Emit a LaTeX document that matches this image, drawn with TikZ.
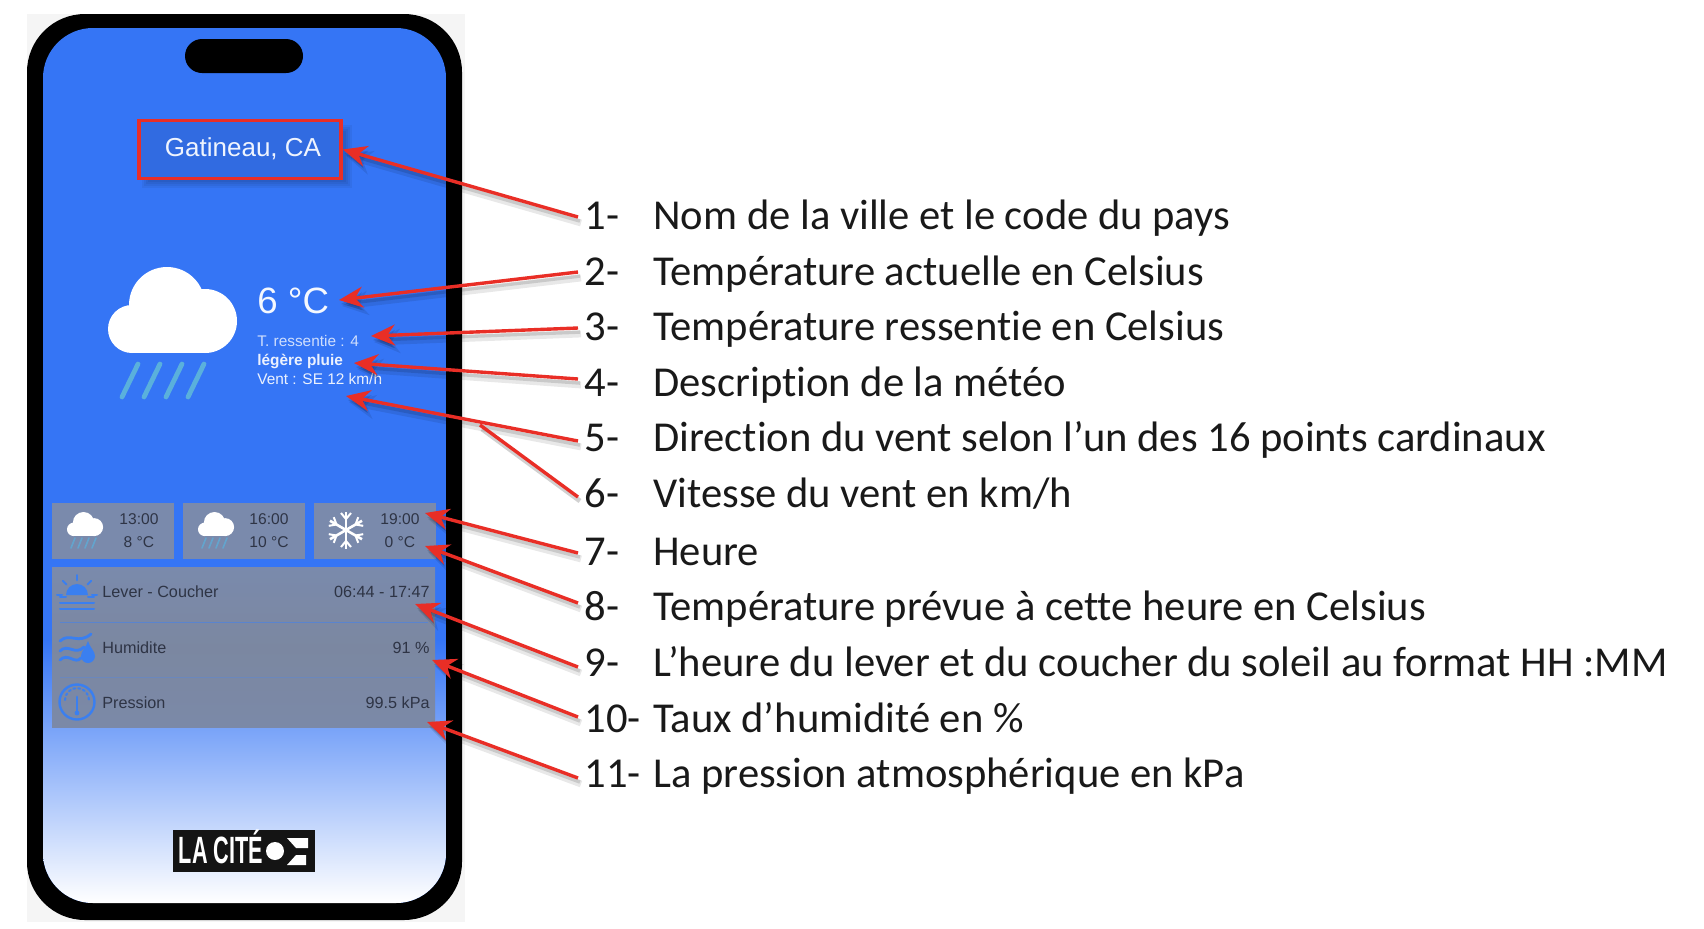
\documentclass[tikz,border=0pt]{standalone}
\usepackage{fontspec}
\usepackage{graphicx}
\setmainfont{Carlito}[Ligatures={NoCommon,NoContextual}]
\newfontfamily\ui{Liberation Sans}
\usetikzlibrary{arrows.meta,calc}
\definecolor{scr}{HTML}{3575F5}
\definecolor{redc}{HTML}{E92E26}
\definecolor{card}{HTML}{7A8AAC}
\definecolor{ink}{HTML}{2E3445}
\definecolor{rain}{HTML}{5AB0DC}
\definecolor{ico}{HTML}{3A7FF0}
\tikzset{
  x=0.5pt,y=-0.5pt,
  lab/.style={anchor=west,inner xsep=0pt,inner ysep=0pt,text height=13.4pt,text depth=0pt,font=\fontsize{21.3}{24}\selectfont,text=black!90},
  num/.style={lab,inner xsep=5.5pt},
  redline/.style={draw=redc,line width=1.7pt},
  redarrow/.style={redline,-{Stealth[length=12pt,width=10.5pt]}},
  shadowa/.style={draw=black,opacity=.09,line width=3.4pt,-{Stealth[length=13pt,width=12pt]}},
  shadowb/.style={draw=black,opacity=.13,line width=1.8pt,-{Stealth[length=11pt,width=9pt]}},
  uitext/.style={font=\ui\fontsize{7.8}{9}\selectfont,text=ink,inner sep=0pt},
  paneltext/.style={font=\ui\fontsize{8.1}{9}\selectfont,text=ink,inner sep=0pt},
  scrtext/.style={font=\ui\fontsize{7.7}{9}\selectfont,text=white!90!scr,inner sep=0pt,anchor=west},
  cardbox/.style={fill=card,draw=none},
  rainline/.style={draw=rain,line cap=round},
  icoline/.style={draw=ico,line cap=round,line width=1pt},
  pics/cloudicon/.style={code={
    \fill[white] (59,38) circle[radius=38] (97,54) circle[radius=32] (24,62) circle[radius=24];
    \fill[white] (24,53) rectangle (97,86);
  }},
  pics/flake/.style={code={
    \foreach \a in {0,60,...,300}{
      \begin{scope}[rotate=\a]
      \draw[white,line width=1.3pt] (0,0) -- (0,18.5);
      \draw[white,line width=1pt] (-5,17) -- (0,11) -- (5,17);
      \end{scope}
    }
  }},
}
\newcommand{\callout}[2]{%
  \draw[shadowa] ([shift={(3,6)}]#1) -- ([shift={(3,6)}]#2);
  \draw[shadowb] ([shift={(2,4)}]#1) -- ([shift={(2,4)}]#2);
  \draw[redarrow] (#1) -- (#2);
}
\begin{document}
\begin{tikzpicture}
\useasboundingbox (0,0) rectangle (1704,928);
\fill[white] (0,0) rectangle (1704,928);
% phone
\fill[black!4] (27,14) rectangle (465,922);
\fill[black,rounded corners=29pt] (27,14) rectangle (462,920);
\begin{scope}
  \clip[rounded corners=25pt] (43,28) rectangle (446,903);
  \fill[scr] (43,28) rectangle (446,903);
  \shade[top color=scr,bottom color=white] (43,640) rectangle (446,903);
\end{scope}
\node[fill=black,rounded corners=8.5pt,minimum width=59pt,minimum height=17pt,inner sep=0pt] (notch) at (244,56) {};
% city
\foreach \g in {0,2,4,6}{
  \fill[black,opacity=.05] (142+\g,125+\g) rectangle (352-\g,188-\g);
}
\node[draw=redc,line width=1.8pt,fill=scr!85!black!55!scr,minimum width=101pt,minimum height=29pt,inner sep=0pt] (city) at (240,149.5) {};
\node[font=\ui\fontsize{13}{15}\selectfont,text=white!92!scr,inner sep=0pt] (citytxt) at (243,149) {Gatineau, CA};
% main weather
\pic (bigcloud) at (108,267) {cloudicon};
\foreach \i in {0,1,2,3}{
  \draw[rainline,line width=2.4pt] ($(138,364)+(22*\i,0)$) -- ($(122,397)+(22*\i,0)$);
}
\node[font=\ui\fontsize{18.3}{20}\selectfont,text=white!95!scr,inner sep=0pt,anchor=west] (temp) at (257,301) {6 °C};
\node[scrtext,opacity=.85] (feel) at (257,341) {T. ressentie : 4};
\node[scrtext,font=\ui\bfseries\fontsize{7.7}{9}\selectfont] (desc) at (257,361) {légère pluie};
\node[scrtext] (wind) at (257,379) {Vent : SE 12 km/h};
% cards
\node[cardbox,minimum width=61pt,minimum height=28pt,inner sep=0pt,anchor=north west] (c1) at (52,503) {};
\node[cardbox,minimum width=61pt,minimum height=28pt,inner sep=0pt,anchor=north west] (c2) at (183,503) {};
\node[cardbox,minimum width=61pt,minimum height=28pt,inner sep=0pt,anchor=north west] (c3) at (314,503) {};
\pic[scale=.28] (s1) at (67,512) {cloudicon};
\pic[scale=.28] (s2) at (198,512) {cloudicon};
\foreach \xx in {0,131}{
  \foreach \i in {0,1,2,3}{
    \draw[rainline,opacity=.7,line width=.8pt] ($(75,538)+(\xx,0)+(7*\i,0)$) -- ($(71,548)+(\xx,0)+(7*\i,0)$);
  }
}
\pic (flk) at (346,530) {flake};
\node[uitext] (t1) at (139,519) {13:00};
\node[uitext] (v1) at (139,542) {8 °C};
\node[uitext] (t2) at (269,519) {16:00};
\node[uitext] (v2) at (269,542) {10 °C};
\node[uitext] (t3) at (400,519) {19:00};
\node[uitext] (v3) at (400,542) {0 °C};
% panel
\shade[top color=card,bottom color=card!90!gray,middle color=card!75!gray] (52,567) rectangle (435,727);
\draw[draw=ico!50!card,line width=.4pt] (60,622) -- (428,622);
\draw[draw=ico!25!card,line width=.4pt] (60,677) -- (428,677);
\node[paneltext,anchor=west] (r1a) at (102,592) {Lever - Coucher};
\node[paneltext,anchor=east] (r1b) at (430,592) {06:44 - 17:47};
\node[paneltext,anchor=west] (r2a) at (102,648) {Humidite};
\node[paneltext,anchor=east] (r2b) at (430,648) {91 \%};
\node[paneltext,anchor=west] (r3a) at (102,703) {Pression};
\node[paneltext,anchor=east] (r3b) at (430,703) {99.5 kPa};
% sun icon
\fill[ico] (66,595) arc[start angle=180,end angle=360,radius=11] -- cycle;
\foreach \a in {0,45,90,135,180}{
  \draw[icoline] ($(77,595)+({15*cos(\a)},{-15*sin(\a)})$) -- ($(77,595)+({20*cos(\a)},{-20*sin(\a)})$);
}
\draw[icoline] (60,596.5) -- (66,596.5) (88,596.5) -- (94,596.5) (60,603) -- (94,603) (60,609) -- (94,609);
% humidity icon
\draw[icoline,line width=1.4pt] (60,641) .. controls (70,632) and (78,645) .. (91,634);
\draw[icoline,line width=1.4pt] (60,651) .. controls (68,643) and (75,656) .. (84,647);
\draw[icoline,line width=1.4pt] (60,660) .. controls (68,652) and (75,665) .. (81,658);
\fill[ico] (88,641) .. controls (86,648) and (81,651) .. (81,656) arc[start angle=180,end angle=0,radius=7] .. controls (95,651) and (90,648) .. (88,641) -- cycle;
% gauge icon
\draw[icoline,line width=1.2pt] (77,702) circle[radius=17.5];
\draw[icoline,line width=1.4pt] (77,697) -- (77,712);
\fill[ico] (77,713) circle[radius=2.4];
\draw[icoline,dash pattern=on 1pt off 1.5pt,line width=1pt] (65,700) arc[start angle=180,end angle=360,radius=12];
% logo
\node[fill=black!92,minimum width=71pt,minimum height=21pt,inner sep=0pt] (logo) at (244,851) {};
\node[font=\ui\bfseries\fontsize{19}{20}\selectfont,text=white,inner sep=0pt] (logotxt) at (221,847) {\scalebox{.57}[1]{LA CITÉ}};
\fill[white] (275,851) circle[radius=9];
\fill[white] (287,838) -- (308,838) -- (308,848) -- (296,848) -- cycle;
\fill[white] (296,855) -- (306,855) -- (306,865) -- (287,865) -- cycle;
% legend
\foreach \n/\y/\d/\num/\txt in {
 1/216/1/1-/{Nom de la ville et le code du pays},
 2/272/0/2-/{Température actuelle en Celsius},
 3/327/1/3-/{Température ressentie en Celsius},
 4/383/-4/4-/{Description de la météo},
 5/438/3/5-/{Direction du vent selon l’un des 16 points cardinaux},
 6/494/3/6-/{Vitesse du vent en km/h},
 7/552/1/7-/{Heure},
 8/607/-4/8-/{Température prévue à cette heure en Celsius},
 9/663/4/9-/{L’heure du lever et du coucher du soleil au format HH :MM},
 10/719/-2/10-/{Taux d’humidité en \%},
 11/774/4/11-/{La pression atmosphérique en kPa}}{
  \node[num] (n\n) at (573,\y) {\num};
  \node[lab] (l\n) at (653,\y) {\txt};
  \coordinate (tail\n) at ($(n\n.west)+(5,\d)$);
}
% targets
\coordinate (a2) at (339,300);
\coordinate (a3) at (371,336);
\coordinate (a4) at (354,363);
\coordinate (a5) at (346,396);
\coordinate (j6) at (480,425);
\coordinate (a7) at (425,513);
\coordinate (a8) at (425,546);
\coordinate (a9) at (415,604);
\coordinate (a10) at (432,660);
\coordinate (a11) at (427,722);
\callout{tail1}{city.east}
\callout{tail2}{a2}
\callout{tail3}{a3}
\callout{tail4}{a4}
\callout{tail5}{a5}
\draw[draw=black,opacity=.18,line width=2.4pt] ([shift={(2,4)}]tail6) -- ([shift={(2,4)}]j6);
\draw[redline] (tail6) -- (j6);
\callout{tail7}{a7}
\callout{tail8}{a8}
\callout{tail9}{a9}
\callout{tail10}{a10}
\callout{tail11}{a11}
\end{tikzpicture}
\end{document}
